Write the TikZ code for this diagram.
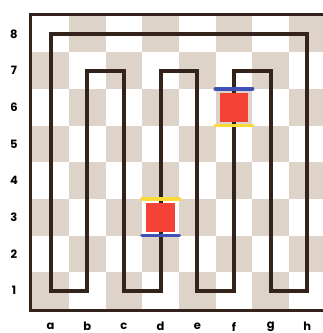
\documentclass[tikz,border=0pt]{standalone}
\usepackage{fontspec}
\setmainfont{Poppins}
\definecolor{tan}{HTML}{DDD3C9}
\definecolor{ink}{HTML}{33231A}
\definecolor{piecered}{HTML}{F44236}
\definecolor{baryellow}{HTML}{FDDA3A}
\definecolor{barblue}{HTML}{3F51B5}
\tikzset{
  darksq/.style={fill=tan},
  loopline/.style={draw=ink, line width=4.2pt, line join=miter},
  frameline/.style={draw=ink, line width=3pt},
  piece/.style={fill=piecered},
  barline/.style={line width=3.6pt, line cap=round},
  lbl/.style={font=\fontsize{11.5}{13}\selectfont\bfseries, text=black, inner sep=0pt}
}
\begin{document}
\begin{tikzpicture}[x=1pt,y=-1pt]
\useasboundingbox (0,0) rectangle (323,333);
\clip (0,0) rectangle (323,333);
\fill[white] (0,0) rectangle (323,333);
\begin{scope}[shift={(32.3,309)}, x={(36.67pt,0)}, y={(0,36.67pt)}]
  % squares
  \foreach \i in {0,...,7} {
    \foreach \j in {0,...,7} {
      \pgfmathtruncatemacro{\sqpar}{mod(\i+\j,2)}
      \ifnum\sqpar=0
        \fill[darksq] (\i,\j) rectangle ++(1,1);
      \fi
    }
  }
  % border
  \draw[frameline] (-0.042,-0.048) rectangle (8.06,8.02);
  % loop path
  \draw[loopline] (0.5,0.5) -- (0.5,7.5) -- (7.5,7.5) -- (7.5,0.5) -- (6.5,0.5)
    -- (6.5,6.5) -- (5.5,6.5) -- (5.5,0.5) -- (4.5,0.5) -- (4.5,6.5) -- (3.5,6.5)
    -- (3.5,0.5) -- (2.5,0.5) -- (2.5,6.5) -- (1.5,6.5) -- (1.5,0.5) -- cycle;
  % piece on d3
  \fill[piece] (3.5-0.395,2.5-0.395) rectangle (3.5+0.395,2.5+0.395);
  \draw[barline, baryellow] (3.5-0.51,3) -- (3.5+0.51,3);
  \draw[barline, barblue] (3.5-0.51,2) -- (3.5+0.51,2);
  % piece on f6
  \fill[piece] (5.5-0.395,5.5-0.395) rectangle (5.5+0.395,5.5+0.395);
  \draw[barline, barblue] (5.5-0.51,6) -- (5.5+0.51,6);
  \draw[barline, baryellow] (5.5-0.51,5) -- (5.5+0.51,5);
  % rank labels
  \foreach \r in {1,...,8} {
    \node[lbl] (rank\r) at (-0.5,\r-0.5) {\r};
  }
  % file labels
  \foreach \f [count=\k from 0] in {a,b,c,d,e,f,g,h} {
    \node[lbl] (file\f) at (\k+0.5,-0.48) {\f};
  }
\end{scope}
\end{tikzpicture}
\end{document}
